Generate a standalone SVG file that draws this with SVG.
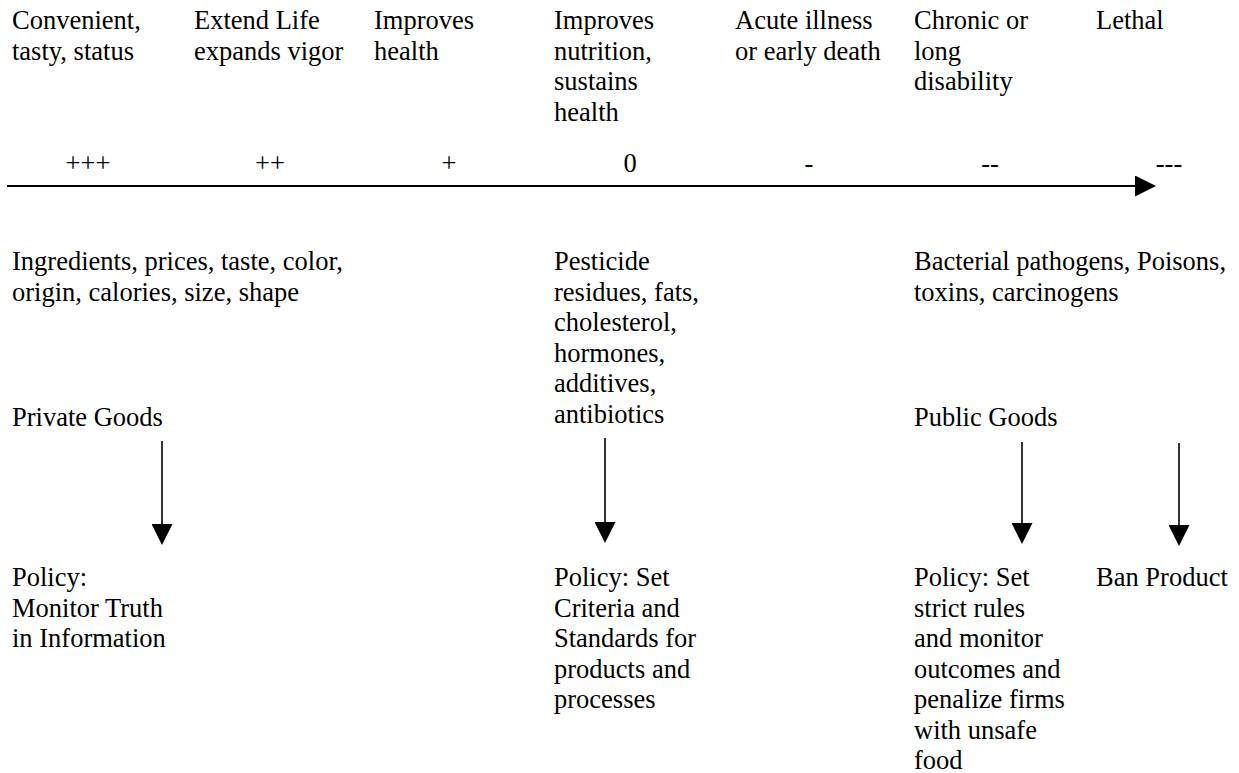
<svg xmlns="http://www.w3.org/2000/svg" width="1239" height="773" viewBox="0 0 1239 773">
<defs>
<style>
text{font-family:'Liberation Serif','Times New Roman',serif;font-size:26.5px;fill:#000}
.sign{text-anchor:middle}
.axis{stroke:#000;stroke-width:2;fill:none}
.down{stroke:#000;stroke-width:1.6;fill:none}
</style>
<marker id="head" viewBox="0 0 21 21" refX="0" refY="10.5" markerWidth="21" markerHeight="21" markerUnits="userSpaceOnUse" orient="auto">
<path d="M0,0 L21,10.5 L0,21 z" fill="#000"/>
</marker>
</defs>
<rect width="1239" height="773" fill="#fff"/>
<g font-family="Liberation Serif, serif" font-size="26.5">
<g id="outcome-1"><text x="12" y="29"><tspan x="12">Convenient,</tspan><tspan x="12" dy="30.6">tasty, status</tspan></text></g>
<g id="outcome-2"><text x="194" y="29"><tspan x="194">Extend Life</tspan><tspan x="194" dy="30.6">expands vigor</tspan></text></g>
<g id="outcome-3"><text x="374" y="29"><tspan x="374">Improves</tspan><tspan x="374" dy="30.6">health</tspan></text></g>
<g id="outcome-4"><text x="554" y="29"><tspan x="554">Improves</tspan><tspan x="554" dy="30.6">nutrition,</tspan><tspan x="554" dy="30.6">sustains</tspan><tspan x="554" dy="30.6">health</tspan></text></g>
<g id="outcome-5"><text x="735" y="29"><tspan x="735">Acute illness</tspan><tspan x="735" dy="30.6">or early death</tspan></text></g>
<g id="outcome-6"><text x="914" y="29"><tspan x="914">Chronic or</tspan><tspan x="914" dy="30.6">long</tspan><tspan x="914" dy="30.6">disability</tspan></text></g>
<g id="outcome-7"><text x="1096" y="29">Lethal</text></g>

<g id="scale">
<text class="sign" x="88" y="172">+++</text>
<text class="sign" x="270" y="172">++</text>
<text class="sign" x="449" y="172">+</text>
<text class="sign" x="630" y="172">0</text>
<text class="sign" x="809" y="172">-</text>
<text class="sign" x="990" y="172">--</text>
<text class="sign" x="1169" y="172">---</text>
</g>

<g id="attributes-private"><text x="12" y="270"><tspan x="12">Ingredients, prices, taste, color,</tspan><tspan x="12" dy="30.6">origin, calories, size, shape</tspan></text></g>
<g id="attributes-mixed"><text x="554" y="270"><tspan x="554">Pesticide</tspan><tspan x="554" dy="30.6">residues, fats,</tspan><tspan x="554" dy="30.6">cholesterol,</tspan><tspan x="554" dy="30.6">hormones,</tspan><tspan x="554" dy="30.6">additives,</tspan><tspan x="554" dy="30.6">antibiotics</tspan></text></g>
<g id="attributes-public"><text x="914" y="270"><tspan x="914">Bacterial pathogens, Poisons,</tspan><tspan x="914" dy="30.6">toxins, carcinogens</tspan></text></g>

<g id="private-goods"><text x="12" y="426">Private Goods</text></g>
<g id="public-goods"><text x="914" y="426">Public Goods</text></g>

<g id="policy-private"><text x="12" y="586"><tspan x="12">Policy:</tspan><tspan x="12" dy="30.6">Monitor Truth</tspan><tspan x="12" dy="30.6">in Information</tspan></text></g>
<g id="policy-mixed"><text x="554" y="586"><tspan x="554">Policy: Set</tspan><tspan x="554" dy="30.6">Criteria and</tspan><tspan x="554" dy="30.6">Standards for</tspan><tspan x="554" dy="30.6">products and</tspan><tspan x="554" dy="30.6">processes</tspan></text></g>
<g id="policy-public"><text x="914" y="586"><tspan x="914">Policy: Set</tspan><tspan x="914" dy="30.6">strict rules</tspan><tspan x="914" dy="30.6">and monitor</tspan><tspan x="914" dy="30.6">outcomes and</tspan><tspan x="914" dy="30.6">penalize firms</tspan><tspan x="914" dy="30.6">with unsafe</tspan><tspan x="914" dy="30">food</tspan></text></g>
<g id="policy-ban"><text x="1096" y="586">Ban Product</text></g>
</g>
<g id="connectors">
<line class="axis" x1="7" y1="186" x2="1135" y2="186" marker-end="url(#head)"/>
<line class="down" x1="162" y1="441" x2="162" y2="524" marker-end="url(#head)"/>
<line class="down" x1="605" y1="438" x2="605" y2="522" marker-end="url(#head)"/>
<line class="down" x1="1022" y1="442" x2="1022" y2="523" marker-end="url(#head)"/>
<line class="down" x1="1179" y1="443" x2="1179" y2="525" marker-end="url(#head)"/>
</g>
</svg>
